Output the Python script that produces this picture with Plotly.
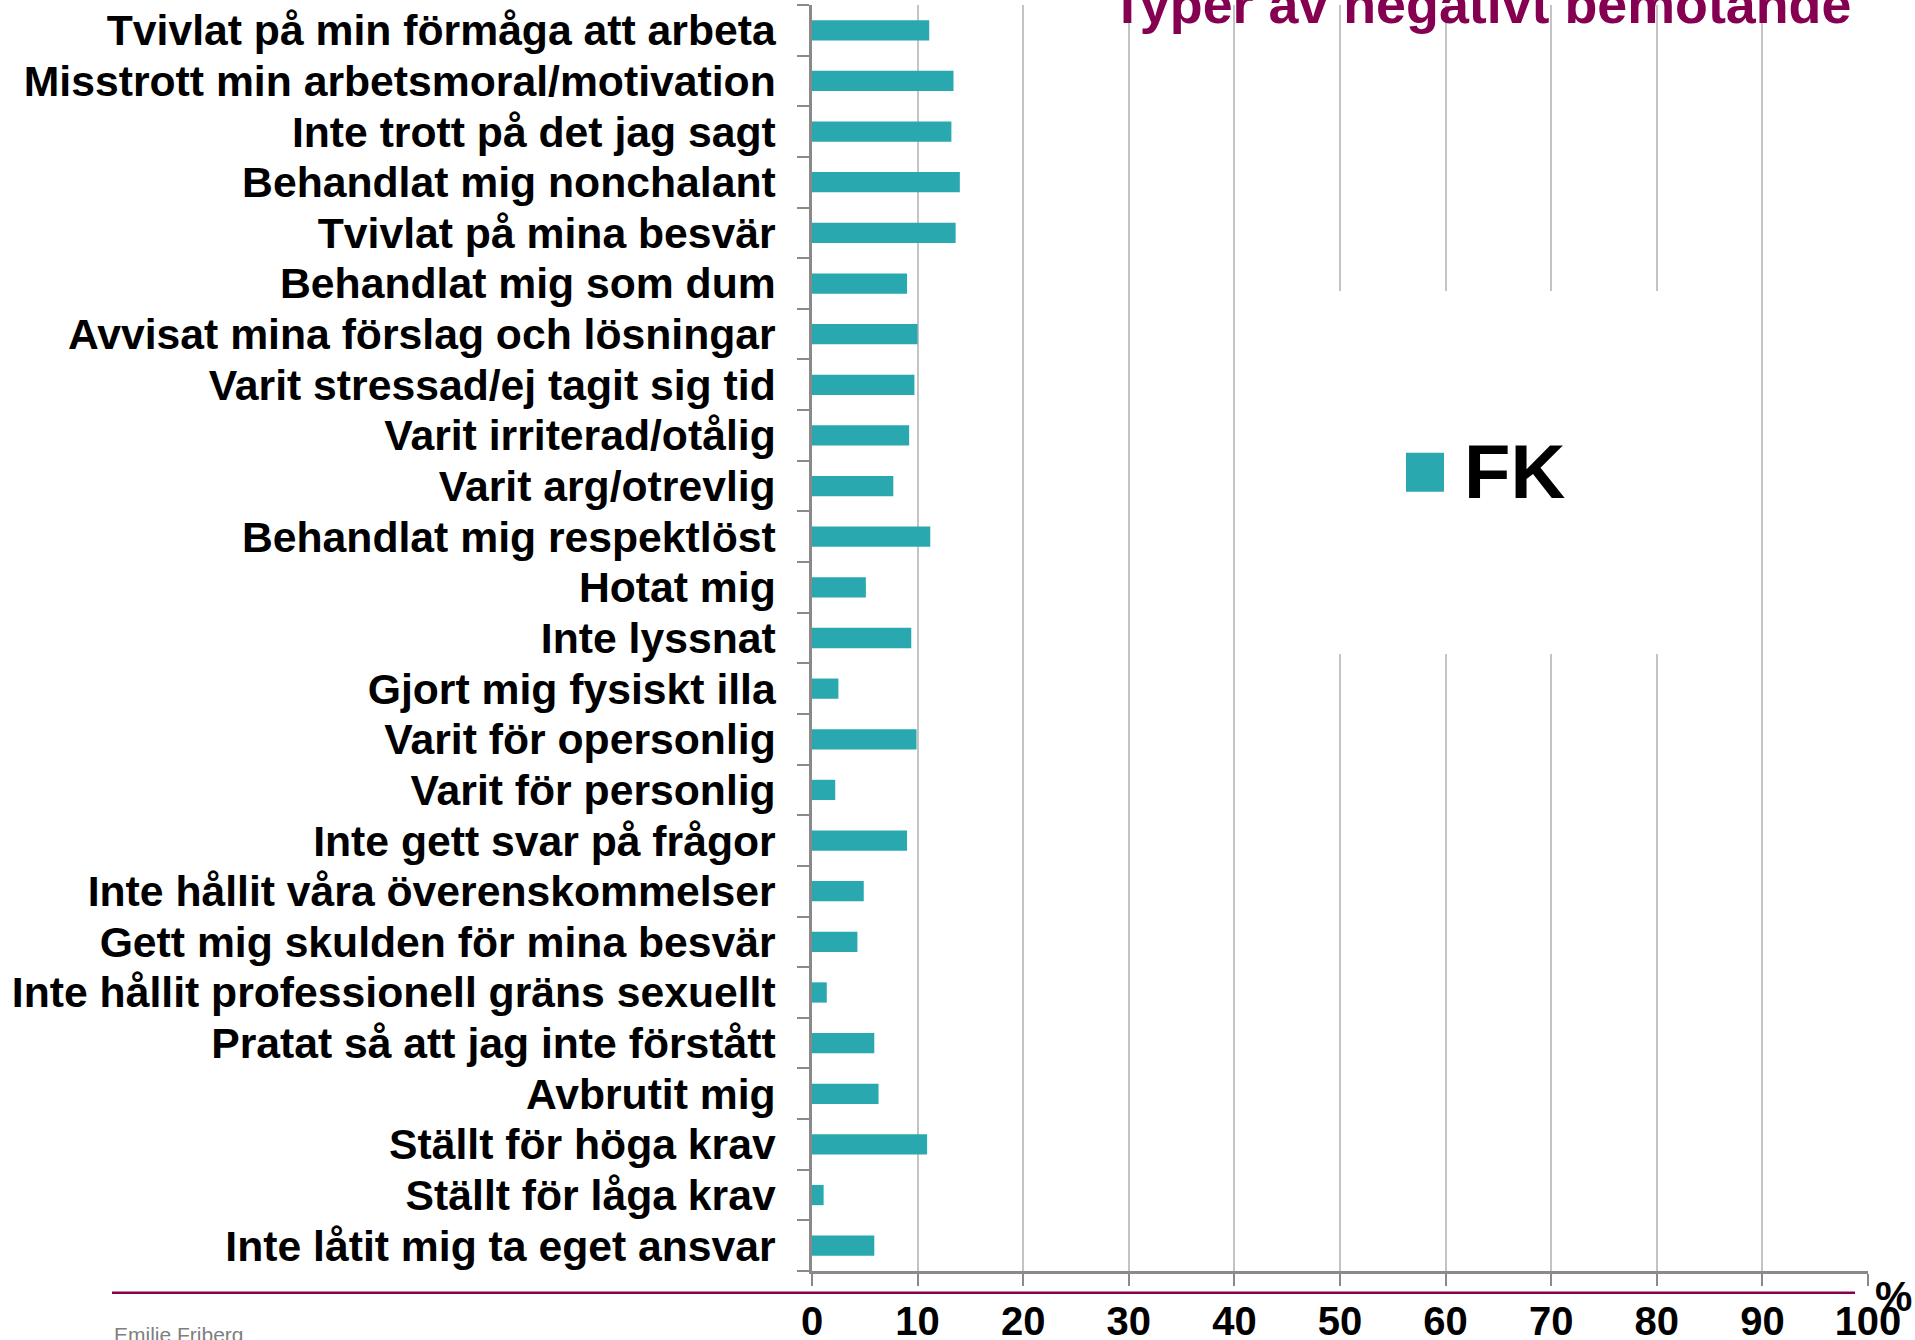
import plotly.graph_objects as go

# ---------------- data ----------------
categories = [
    "Tvivlat på min förmåga att arbeta",
    "Misstrott min arbetsmoral/motivation",
    "Inte trott på det jag sagt",
    "Behandlat mig nonchalant",
    "Tvivlat på mina besvär",
    "Behandlat mig som dum",
    "Avvisat mina förslag och lösningar",
    "Varit stressad/ej tagit sig tid",
    "Varit irriterad/otålig",
    "Varit arg/otrevlig",
    "Behandlat mig respektlöst",
    "Hotat mig",
    "Inte lyssnat",
    "Gjort mig fysiskt illa",
    "Varit för opersonlig",
    "Varit för personlig",
    "Inte gett svar på frågor",
    "Inte hållit våra överenskommelser",
    "Gett mig skulden för mina besvär",
    "Inte hållit professionell gräns sexuellt",
    "Pratat så att jag inte förstått",
    "Avbrutit mig",
    "Ställt för höga krav",
    "Ställt för låga krav",
    "Inte låtit mig ta eget ansvar",
]
fk_values = [11.1, 13.4, 13.2, 14.0, 13.6, 9.0, 10.0, 9.7, 9.2, 7.7, 11.2, 5.1, 9.4, 2.5,
             9.9, 2.2, 9.0, 4.9, 4.3, 1.4, 5.9, 6.3, 10.9, 1.1, 5.9]
series_name = "FK"
x_ticks = [0, 10, 20, 30, 40, 50, 60, 70, 80, 90, 100]
title_text = "Typer av negativt bemötande"
footer_text = "Emilie Friberg"
axis_unit = "%"

# ---------------- layout helpers ----------------
W, H = 1915, 1340
L, R, T, B = 812, 47, 5, 69
PW = W - L - R
PH = H - T - B

def px_x(px):
    return (px - L) / PW

def px_y(py):
    return 1 - (py - T) / PH

FONT = "Liberation Sans, Arial, sans-serif"
TEAL = "#29A8B0"
MAROON = "#850051"

fig = go.Figure(
    go.Bar(
        y=categories,
        x=fk_values,
        orientation="h",
        name=series_name,
        width=0.4,
        marker=dict(color=TEAL, line=dict(width=0)),
        showlegend=False,
    )
)

fig.update_layout(
    width=W,
    height=H,
    margin=dict(l=L, r=R, t=T, b=B, autoexpand=False),
    paper_bgcolor="white",
    plot_bgcolor="white",
    font=dict(family=FONT, color="black"),
    showlegend=False,
)

fig.update_yaxes(
    type="category",
    range=[len(categories) - 0.5, -0.5],
    tickmode="array",
    tickvals=categories,
    ticktext=categories,
    tickson="boundaries",
    ticks="outside",
    ticklen=12,
    tickwidth=2,
    tickcolor="#8a8a8a",
    showline=True,
    linecolor="#8a8a8a",
    linewidth=2.5,
    showgrid=False,
    zeroline=False,
    tickfont=dict(size=42.7, color="black", family=FONT, weight="bold"),
    ticklabelstandoff=25,
)

fig.update_xaxes(
    range=[0, 100],
    tickmode="array",
    tickvals=x_ticks,
    ticktext=[str(v) for v in x_ticks],
    ticks="outside",
    ticklen=12,
    tickwidth=2,
    tickcolor="#8a8a8a",
    showline=True,
    linecolor="#8a8a8a",
    linewidth=2.5,
    showgrid=True,
    gridcolor="#c4c4c4",
    gridwidth=2,
    zeroline=False,
    tickfont=dict(size=40, color="black", family=FONT, weight="bold"),
    ticklabelstandoff=1,
)

shapes = [
    # white legend area covering the gridlines
    dict(type="rect", xref="paper", yref="paper", layer="above",
         x0=px_x(1300), x1=px_x(1710), y0=px_y(654), y1=px_y(291),
         fillcolor="white", line=dict(width=0)),
    # legend swatch
    dict(type="rect", xref="paper", yref="paper", layer="above",
         x0=px_x(1406), x1=px_x(1444), y0=px_y(491.7), y1=px_y(452.7),
         fillcolor=TEAL, line=dict(width=0)),
    # maroon footer rule
    dict(type="line", xref="paper", yref="paper", layer="above",
         x0=px_x(112), x1=px_x(1855), y0=px_y(1292.7), y1=px_y(1292.7),
         line=dict(color=MAROON, width=2.5)),
]
fig.update_layout(shapes=shapes)

annotations = [
    dict(text=title_text, xref="paper", yref="paper", x=px_x(1481), y=px_y(36),
         xanchor="center", yanchor="bottom", showarrow=False,
         font=dict(size=53.8, color=MAROON, family=FONT, weight="bold")),
    dict(text=series_name, xref="paper", yref="paper", x=px_x(1462), y=px_y(471.5),
         xanchor="left", yanchor="middle", showarrow=False,
         font=dict(size=76, color="black", family=FONT, weight="bold")),
    dict(text=axis_unit, xref="paper", yref="paper", x=px_x(1893.5), y=px_y(1296),
         xanchor="center", yanchor="middle", showarrow=False,
         font=dict(size=42, color="black", family=FONT, weight="bold")),
    dict(text=footer_text, xref="paper", yref="paper", x=px_x(112), y=px_y(1321),
         xanchor="left", yanchor="top", showarrow=False,
         font=dict(size=21, color="#7f7f7f", family=FONT)),
]
fig.update_layout(annotations=annotations)

fig.write_html(
    "out.html",
    config={"displayModeBar": False},
    post_script="document.body.style.margin='0';document.body.style.overflow='hidden';",
)
